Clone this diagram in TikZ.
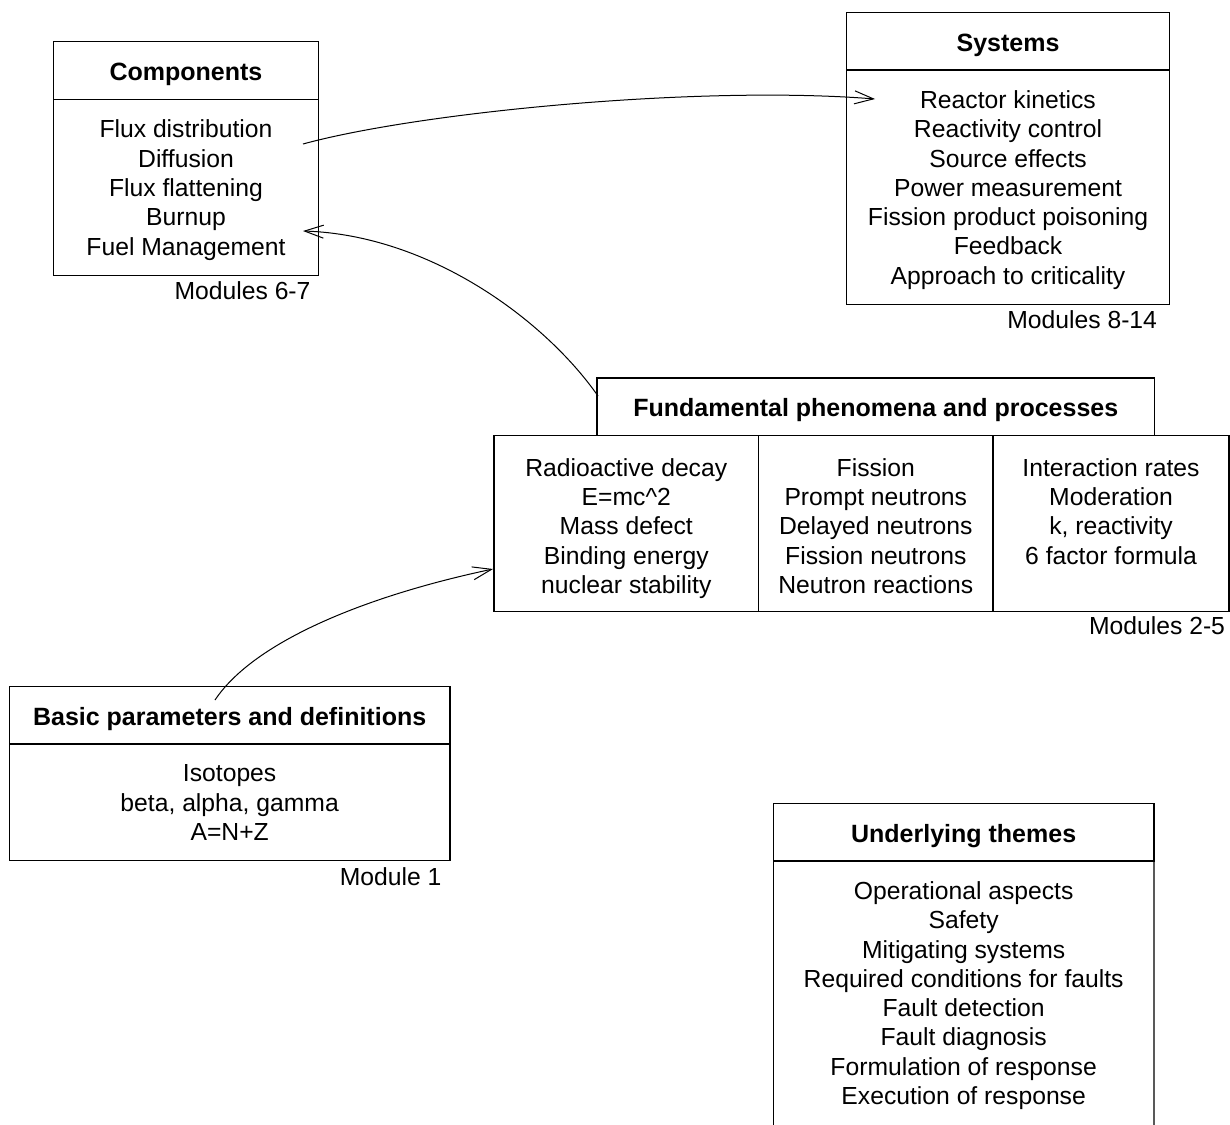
\documentclass[tikz,border=0pt]{standalone}
\usepackage{fontspec}
\setmainfont{Liberation Sans}
\usetikzlibrary{arrows.meta}
\begin{document}
\begin{tikzpicture}[x=1pt,y=-1pt,
  every node/.style={inner sep=0pt,outer sep=0pt},
  boxedge/.style={draw,line width=1.2pt},
  headbox/.style={boxedge,font=\fontsize{25}{30}\selectfont\bfseries,text height=20pt,text depth=0pt},
  cellbox/.style={boxedge},
  listtext/.style={align=center,anchor=north,font=\fontsize{24.7}{29.3}\selectfont},
  modlabel/.style={anchor=base east,font=\fontsize{24.7}{29.3}\selectfont},
  linkarrow/.style={line width=1pt,-{Straight Barb[length=19pt,width=13pt]}},
]
% page
\path[fill=white] (0,0) rectangle (1230,1124);
\useasboundingbox (0,0) rectangle (1230,1124);

% Components
\node[headbox,minimum width=264.6pt,minimum height=57.6pt] (comp-head) at (186,70.5) {Components};
\node[cellbox,minimum width=264.6pt,minimum height=176.4pt] (comp-body) at (186,187.5) {};
\node[listtext] (comp-list) at (186,119.9) {Flux distribution\\Diffusion\\Flux flattening\\Burnup\\Fuel Management};
\node[modlabel] (comp-mod) at (310.5,299) {Modules 6-7};

% Systems
\node[headbox,minimum width=322.6pt,minimum height=57.7pt] (sys-head) at (1008,41.2) {Systems};
\node[cellbox,minimum width=322.6pt,minimum height=234.3pt] (sys-body) at (1008,187.2) {};
\node[listtext] (sys-list) at (1008,90.5) {Reactor kinetics\\Reactivity control\\Source effects\\Power measurement\\Fission product poisoning\\Feedback\\Approach to criticality};
\node[modlabel] (sys-mod) at (1157,328.3) {Modules 8-14};

% Fundamental phenomena and processes
\node[headbox,minimum width=557.6pt,minimum height=57.5pt] (fund-head) at (875.8,406.8) {Fundamental phenomena and processes};
\node[cellbox,minimum width=264.5pt,minimum height=176.2pt] (fund-c1) at (626.3,523.6) {};
\node[cellbox,minimum width=234.5pt,minimum height=176.2pt] (fund-c2) at (875.8,523.6) {};
\node[cellbox,minimum width=236pt,minimum height=176.2pt] (fund-c3) at (1111,523.6) {};
\node[listtext] (fund-l1) at (626.3,458.2) {Radioactive decay\\E=mc\^{}2\\Mass defect\\Binding energy\\nuclear stability};
\node[listtext] (fund-l2) at (875.8,458.2) {Fission\\Prompt neutrons\\Delayed neutrons\\Fission neutrons\\Neutron reactions};
\node[listtext] (fund-l3) at (1111,458.2) {Interaction rates\\Moderation\\k, reactivity\\6 factor formula};
\node[modlabel] (fund-mod) at (1225,634) {Modules 2-5};

% Basic parameters and definitions
\node[headbox,minimum width=440.7pt,minimum height=57.3pt] (basic-head) at (229.65,715.35) {Basic parameters and definitions};
\node[cellbox,minimum width=440.7pt,minimum height=116.7pt] (basic-body) at (229.65,802.35) {};
\node[listtext] (basic-list) at (229.65,764.9) {Isotopes\\beta, alpha, gamma\\A=N+Z};
\node[modlabel] (basic-mod) at (441.5,885) {Module 1};

% Underlying themes (runs off the lower edge)
\node[headbox,minimum width=380.7pt,minimum height=57.7pt] (und-head) at (963.65,832.15) {Underlying themes};
\coordinate (und-bl) at (773.3,1140);
\coordinate (und-br) at (1154,1140);
\draw[boxedge] (und-head.south west) -- (und-bl);
\draw[boxedge] (und-head.south east) -- (und-br);
\node[listtext] (und-list) at (963.65,881.5) {Operational aspects\\Safety\\Mitigating systems\\Required conditions for faults\\Fault detection\\Fault diagnosis\\Formulation of response\\Execution of response};

% connector end points
\coordinate (comp-out) at (303,144);
\coordinate (sys-in) at (875,99);
\coordinate (fund-out) at (598,396);
\coordinate (comp-in) at (303,231);
\coordinate (basic-out) at (215,700);
\coordinate (fund-in) at (493,569);

% connectors
\draw[linkarrow] (comp-out) .. controls (420,112) and (700,85) .. (sys-in);
\draw[linkarrow] (fund-out) .. controls (545,320) and (430,235) .. (comp-in);
\draw[linkarrow] (basic-out) .. controls (255,640) and (370,595) .. (fund-in);
\end{tikzpicture}
\end{document}
